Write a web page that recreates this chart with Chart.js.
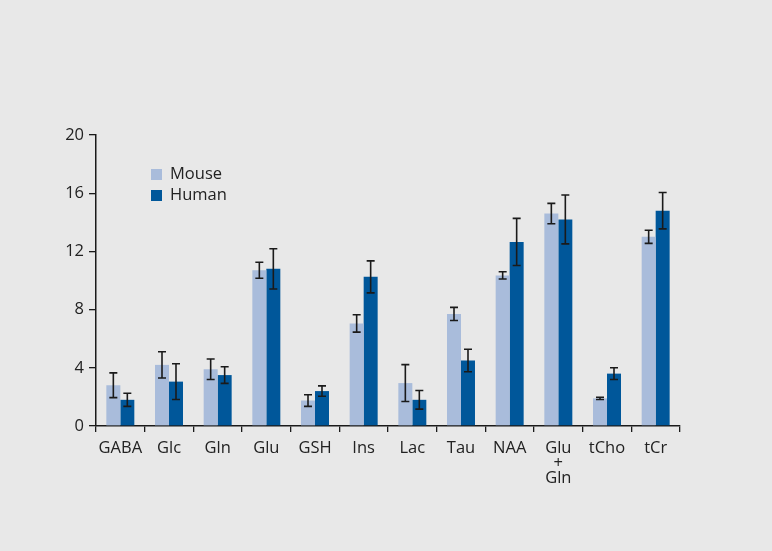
<!DOCTYPE html>
<html>
<head>
<meta charset="utf-8">
<script src="https://cdn.jsdelivr.net/npm/chart.js@4.4.1/dist/chart.umd.min.js"></script>
<style>
  html, body { margin:0; padding:0; background:#e8e8e8; }
  #wrap { position:relative; width:772px; height:551px; }
  #legend { position:absolute; left:151px; top:162px; font-family:"Open Sans", sans-serif; font-size:16.5px; color:#222; }
  #legend div { height:21px; line-height:21px; white-space:nowrap; }
  #legend span.sw { display:inline-block; width:11px; height:11px; margin-right:8px; vertical-align:-1px; }
</style>
</head>
<body>
<div id="wrap">
  <canvas id="c" width="772" height="551"></canvas>
  <div id="legend"></div>
</div>
<script>
// ── data ──
var categories = ['GABA','Glc','Gln','Glu','GSH','Ins','Lac','Tau','NAA',['Glu','+','Gln'],'tCho','tCr'];
var mouseVals  = [2.8, 4.2, 3.9, 10.7, 1.75, 7.05, 2.95, 7.7, 10.35, 14.6, 1.9, 13.0];
var mouseErr   = [0.85, 0.9, 0.7, 0.55, 0.4, 0.6, 1.27, 0.45, 0.25, 0.7, 0.08, 0.45];
var humanVals  = [1.8, 3.05, 3.5, 10.8, 2.4, 10.25, 1.8, 4.5, 12.65, 14.2, 3.6, 14.8];
var humanErr   = [0.45, 1.23, 0.57, 1.38, 0.36, 1.1, 0.64, 0.77, 1.62, 1.68, 0.4, 1.25];
var yTicks     = [0, 4, 8, 12, 16, 20];

var colors = { mouse:'#a9bcdb', human:'#00579a' };
var FONT = '"Open Sans", sans-serif';

// error bars drawn from the bar elements + y scale
var errorBars = {
  id:'errorBars',
  afterDatasetsDraw:function(chart){
    var ctx = chart.ctx, y = chart.scales.y;
    chart.data.datasets.forEach(function(ds, i){
      var meta = chart.getDatasetMeta(i);
      meta.data.forEach(function(bar, j){
        var v = ds.data[j], e = ds.err[j];
        var top = y.getPixelForValue(v + e), bot = y.getPixelForValue(v - e);
        ctx.save();
        ctx.strokeStyle = '#1a1a1a';
        ctx.lineWidth = 1.6;
        ctx.beginPath();
        ctx.moveTo(bar.x, top); ctx.lineTo(bar.x, bot);
        ctx.moveTo(bar.x - 4, top); ctx.lineTo(bar.x + 4, top);
        ctx.moveTo(bar.x - 4, bot); ctx.lineTo(bar.x + 4, bot);
        ctx.stroke();
        ctx.restore();
      });
    });
  }
};

var chart = new Chart(document.getElementById('c'), {
  type:'bar',
  data:{
    labels:categories,
    datasets:[
      {label:'Mouse', data:mouseVals, err:mouseErr, backgroundColor:colors.mouse, categoryPercentage:0.575, barPercentage:1.0},
      {label:'Human', data:humanVals, err:humanErr, backgroundColor:colors.human, categoryPercentage:0.575, barPercentage:1.0}
    ]
  },
  options:{
    responsive:false,
    animation:false,
    layout:{ padding:{ left:0, right:92, top:135, bottom:0 } },
    plugins:{ legend:{display:false}, tooltip:{enabled:false} },
    scales:{
      x:{
        offset:true,
        grid:{ offset:true, drawOnChartArea:false, drawTicks:true, tickLength:6, color:'#1a1a1a', lineWidth:1.3 },
        border:{ color:'#1a1a1a', width:1.5 },
        ticks:{ color:'#222', font:{ family:FONT, size:16.5, lineHeight:0.9 }, padding:9, maxRotation:0, autoSkip:false },
        afterFit:function(s){ s.height = 125; }
      },
      y:{
        min:0, max:20,
        afterBuildTicks:function(s){ s.ticks = yTicks.map(function(v){ return {value:v}; }); },
        grid:{ drawOnChartArea:false, drawTicks:true, tickLength:7, color:'#1a1a1a', lineWidth:1.3 },
        border:{ color:'#1a1a1a', width:1.5 },
        ticks:{ color:'#222', font:{ family:FONT, size:16.5 }, padding:5 },
        afterFit:function(s){ s.width = 96; }
      }
    }
  },
  plugins:[errorBars]
});

// html legend
var lg = document.getElementById('legend');
chart.data.datasets.forEach(function(ds){
  var d = document.createElement('div');
  d.innerHTML = '<span class="sw" style="background:'+ds.backgroundColor+'"></span>'+ds.label;
  lg.appendChild(d);
});
</script>
</body>
</html>
